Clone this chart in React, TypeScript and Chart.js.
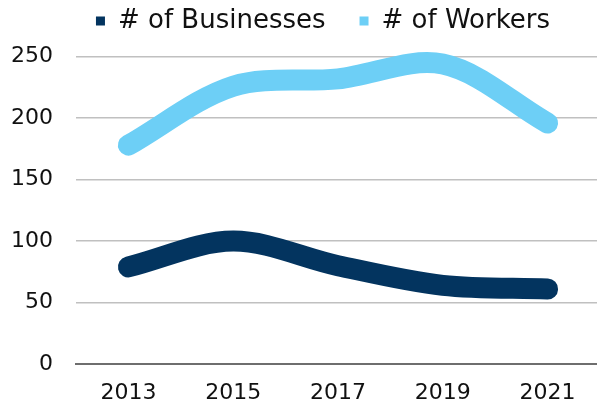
import React, { useEffect, useRef } from 'react';
import { Chart, registerables } from 'chart.js';

Chart.register(...registerables);

const years = ['2013', '2015', '2017', '2019', '2021'];
const businesses = [79, 100, 80, 64, 61];
const workers = [178, 226, 232, 244, 196];
const seriesNames = ['# of Businesses', '# of Workers'];
const yMin = 0;
const yMax = 250;
const yStep = 50;

const FONT = 'DejaVu Sans';
const TEXT = '#111111';
const NAVY = '#03345F';
const SKY = '#6DCFF6';

export default function App() {
  const ref = useRef<HTMLCanvasElement | null>(null);

  useEffect(() => {
    document.body.style.margin = '0';
    const canvas = ref.current;
    if (!canvas) return;

    const legendTweak = {
      id: 'legendTweak',
      beforeUpdate(chart: any) {
        const lg = chart.legend;
        if (lg && !lg.__patched) {
          const orig = lg.fit.bind(lg);
          lg.fit = function () {
            orig();
            this.height = 56.7;
          };
          lg.__patched = true;
        }
      },
      afterLayout(chart: any) {
        const lg = chart.legend;
        if (!lg) return;
        lg.top = -26;
        lg.bottom = lg.top + lg.height;
        lg.left += 23;
        lg.right += 23;
      },
    };

    const chart = new Chart(canvas, {
      type: 'line',
      data: {
        labels: years,
        datasets: [
          {
            label: seriesNames[0],
            data: businesses,
            borderColor: NAVY,
            backgroundColor: NAVY,
          },
          {
            label: seriesNames[1],
            data: workers,
            borderColor: SKY,
            backgroundColor: SKY,
          },
        ],
      },
      options: {
        responsive: false,
        animation: false,
        devicePixelRatio: 1,
        layout: { padding: 0 },
        datasets: {
          line: { clip: false as any },
        },
        elements: {
          line: {
            tension: 0.33,
            borderWidth: 21,
            borderCapStyle: 'round',
            borderJoinStyle: 'round',
            fill: false,
          },
          point: { radius: 0, hoverRadius: 0 },
        },
        plugins: {
          tooltip: { enabled: false },
          legend: {
            position: 'top',
            labels: {
              boxWidth: 9,
              boxHeight: 9,
              padding: 34,
              color: TEXT,
              font: { family: FONT, size: 26 },
              generateLabels: (c: any) =>
                c.data.datasets.map((ds: any, i: number) => ({
                  text: ds.label,
                  fillStyle: ds.borderColor,
                  strokeStyle: ds.borderColor,
                  lineWidth: 0,
                  hidden: false,
                  datasetIndex: i,
                  fontColor: TEXT,
                })),
            },
          },
        },
        scales: {
          x: {
            type: 'category',
            offset: true,
            grid: { display: false },
            border: { display: true, color: '#6e6e6e', width: 2 },
            ticks: {
              color: TEXT,
              font: { family: FONT, size: 22 },
              padding: 8,
              maxRotation: 0,
            },
            afterFit: (s: any) => {
              s.height = 42;
            },
          },
          y: {
            min: yMin,
            max: yMax,
            ticks: {
              stepSize: yStep,
              color: TEXT,
              font: { family: FONT, size: 22 },
              padding: 23,
            },
            grid: { color: '#c0c0c0', lineWidth: 1.5, drawTicks: false },
            border: { display: false },
            afterFit: (s: any) => {
              s.width = 76;
            },
          },
        },
      },
      plugins: [legendTweak],
    });

    return () => chart.destroy();
  }, []);

  return (
    <div style={{ position: 'absolute', left: 0, top: 0, width: 597, height: 406, overflow: 'hidden', background: '#fff' }}>
      <canvas ref={ref} width={600} height={406} style={{ display: 'block' }} />
    </div>
  );
}
